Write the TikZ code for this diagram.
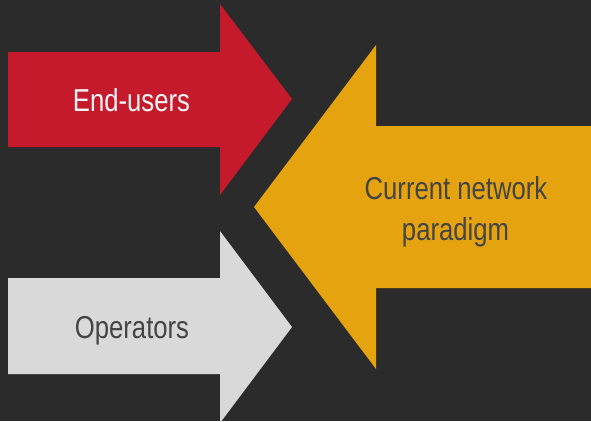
\documentclass[tikz,border=0pt]{standalone}
\usepackage{fontspec}
\setmainfont{Liberation Sans}
\definecolor{bgcol}{HTML}{2B2B2B}
\definecolor{redcol}{HTML}{C41A2C}
\definecolor{yellowcol}{HTML}{E5A40F}
\definecolor{graycol}{HTML}{D9D9D9}
\definecolor{darktext}{HTML}{444444}
\definecolor{lighttext}{HTML}{F4F4F4}
\tikzset{
  lbl/.style={anchor=base, inner sep=0pt, font=\fontsize{31.7}{38}\selectfont},
}
\newcommand{\narrowtxt}[1]{\scalebox{0.81}[1]{#1}}
\begin{document}
\begin{tikzpicture}[x=1pt,y=-1pt]
\fill[bgcol] (0,0) rectangle (591,421);
\useasboundingbox (0,0) rectangle (591,421);
\fill[redcol] (8,52) -- (220,52) -- (220,4) -- (292,99) -- (220,195) -- (220,147) -- (8,147) -- cycle;
\fill[graycol] (8,278) -- (220,278) -- (220,231) -- (292,327) -- (220,423) -- (220,374) -- (8,374) -- cycle;
\fill[yellowcol] (591,126) -- (376,126) -- (376,45) -- (254,207) -- (376,369) -- (376,288) -- (591,288) -- cycle;
\node[lbl, text=lighttext] (endusers) at (131.5,111) {\narrowtxt{End-users}};
\node[lbl, text=darktext] (operators) at (132,338) {\narrowtxt{Operators}};
\node[lbl, text=darktext] (current) at (456,199) {\narrowtxt{Current network}};
\node[lbl, text=darktext] (paradigm) at (455.5,240) {\narrowtxt{paradigm}};
\end{tikzpicture}
\end{document}
